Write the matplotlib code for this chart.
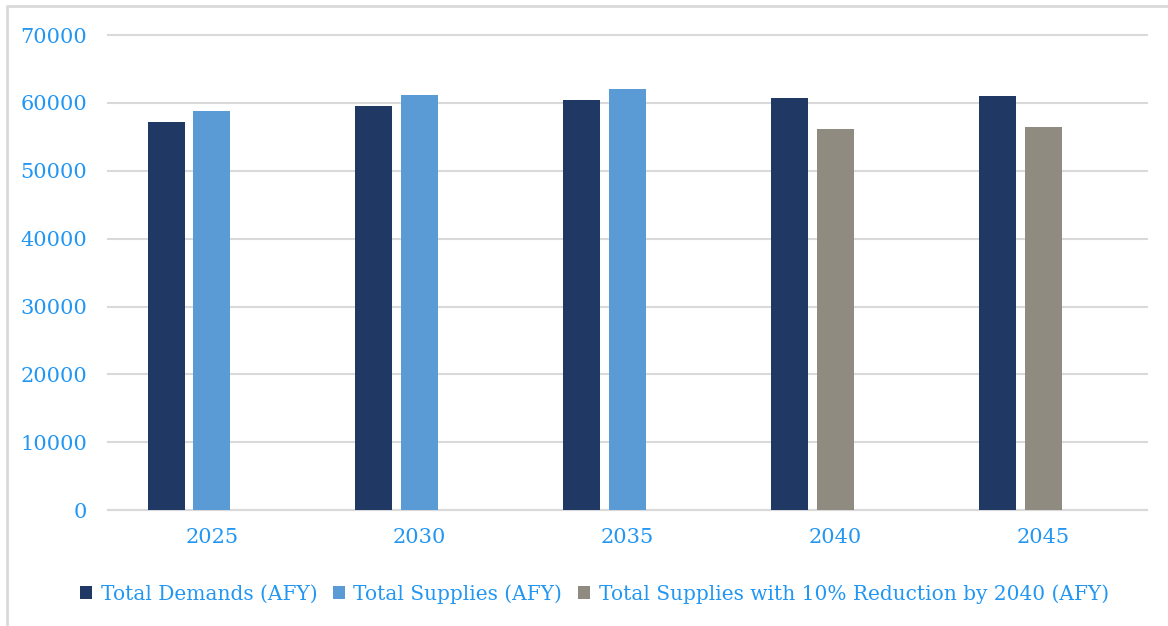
import numpy as np
import matplotlib.pyplot as plt
from matplotlib.lines import Line2D

# data
years = ['2025', '2030', '2035', '2040', '2045']
demands = [57150, 59500, 60400, 60700, 61000]
supplies = [58800, 61100, 62000, np.nan, np.nan]
supplies_reduced = [np.nan, np.nan, np.nan, 56150, 56450]

blue_text = '#2196F3'
c_dem = '#203864'
c_sup = '#5B9BD5'
c_red = '#8F8B80'

plt.rcParams['font.family'] = ['DejaVu Serif']

fig = plt.figure(figsize=(11.68, 6.26), dpi=100)
ax = fig.add_axes([0.0925, 0.185, 0.8895, 0.759])

x = np.arange(len(years))
w = 0.178
off = 0.221
ax.bar(x - off, demands, w, color=c_dem, label='Total Demands (AFY)', zorder=3)
ax.bar(x, supplies, w, color=c_sup, label='Total Supplies (AFY)', zorder=3)
ax.bar(x, supplies_reduced, w, color=c_red,
       label='Total Supplies with 10% Reduction by 2040 (AFY)', zorder=3)

ax.set_xlim(-0.5, len(years) - 0.5)
ax.set_ylim(0, 70000)
ax.set_yticks(np.arange(0, 70001, 10000))
ax.set_xticks(x)
ax.set_xticklabels(years)
ax.grid(axis='y', color='#D9D9D9', linewidth=1.5, zorder=0)
for gl in ax.get_ygridlines():
    gl.set_clip_on(False)
for s in ['top', 'right', 'left']:
    ax.spines[s].set_visible(False)
ax.spines['bottom'].set_color('#D9D9D9')
ax.spines['bottom'].set_linewidth(1.5)
ax.tick_params(axis='both', length=0, labelsize=15, labelcolor=blue_text)
ax.tick_params(axis='y', pad=15)
ax.tick_params(axis='x', pad=13)

fig.legend(loc='center', bbox_to_anchor=(0.509, 0.051), ncol=3, frameon=False,
           fontsize=14.5, labelcolor=blue_text, handlelength=0.6, handleheight=0.6,
           handletextpad=0.4, columnspacing=0.8)

# light border (top and left only, the rest is cropped)
fig.add_artist(Line2D([0.006, 0.006, 1.0], [0.0, 0.99, 0.99], transform=fig.transFigure,
                      color='#D9D9D9', linewidth=2))

plt.savefig('out.png', dpi=100)
